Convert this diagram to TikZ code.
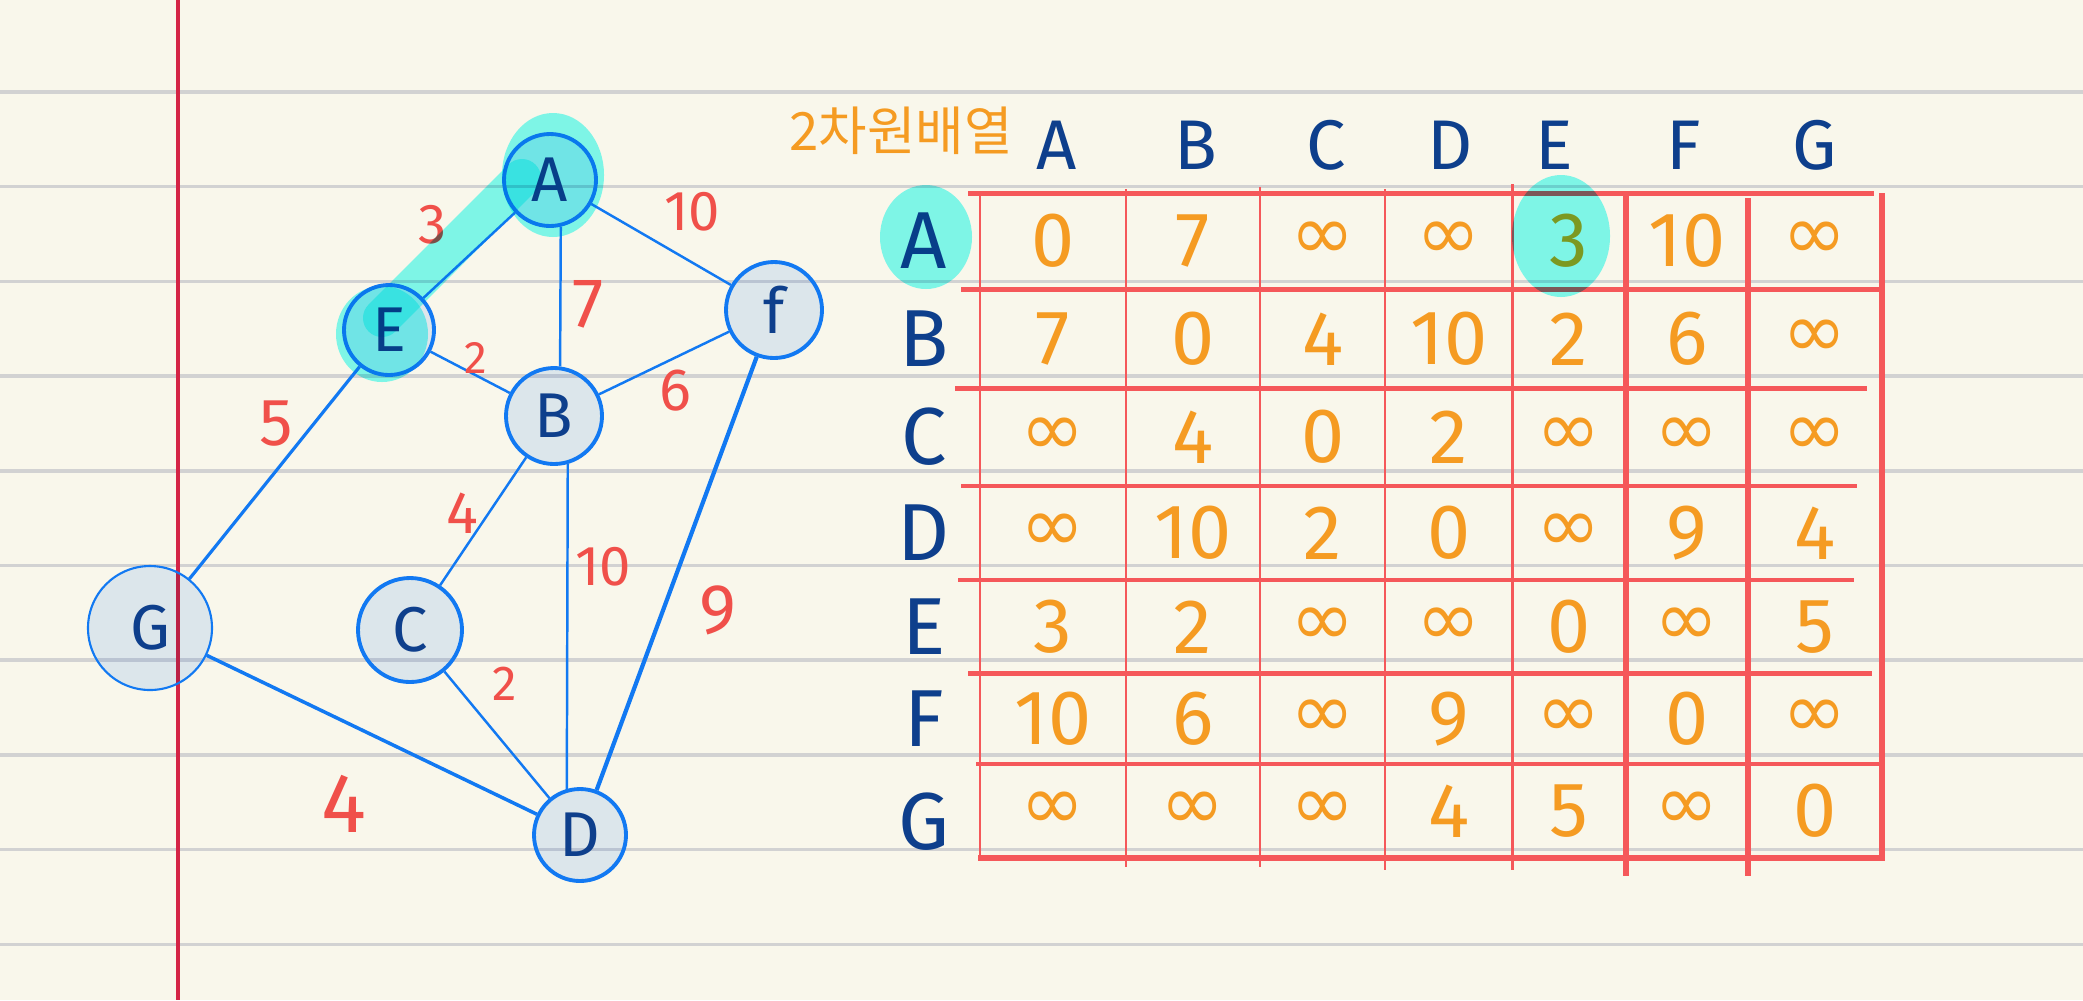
\documentclass[tikz,border=0pt]{standalone}
\usepackage{fontspec}
\setmainfont{Fira Sans}
\newfontfamily\kofont{Noto Sans CJK KR}
\newfontfamily\symfont{DejaVu Sans}
\definecolor{paper}{HTML}{F9F7EB}
\definecolor{ruleg}{HTML}{D2D2D2}
\definecolor{marginred}{HTML}{D42445}
\definecolor{nodeblue}{HTML}{1279F2}
\definecolor{nodefill}{HTML}{E2EEFF}
\definecolor{ink}{HTML}{0E3F8C}
\definecolor{wred}{HTML}{F0504A}
\definecolor{tred}{HTML}{F5585A}
\definecolor{orng}{HTML}{F59B22}
\definecolor{hl}{HTML}{82FDFA}
\protected\def\I{{\symfont ∞}}
\tikzset{
  gnode/.style={circle, draw=nodeblue, line width=1.1pt, inner sep=0pt,
    text=ink, font=\fontsize{18}{18}\selectfont},
  nfill/.style={fill=nodefill, blend mode=multiply},
  gedge/.style={draw=nodeblue, line width=0.7pt},
  wlabel/.style={text=wred, inner sep=0pt, font=\fontsize{16}{16}\selectfont},
  colhead/.style={text=ink, inner sep=0pt, font=\fontsize{20}{20}\selectfont},
  rowlab/.style={text=ink, inner sep=0pt, font=\fontsize{23}{23}\selectfont},
  cellv/.style={text=orng, inner sep=0pt, font=\fontsize{22}{22}\selectfont},
  tthin/.style={draw=tred, line width=0.6pt},
  tthick/.style={draw=tred, line width=1.2pt},
  tbold/.style={draw=tred, line width=1.6pt},
  hilite/.style={fill=hl, draw=none, blend mode=multiply},
}
\begin{document}
\begin{tikzpicture}[x=0.1mm, y=-0.1mm]
\path[use as bounding box, fill=paper] (0,0) rectangle (2083,1000);
% ruled lines
\foreach \yy in {92,186.7,281.4,376,470.8,565.5,660.2,755,849.6,944.3}
  \draw[ruleg, line width=1pt] (0,\yy) -- (2083,\yy);
% margin line
\draw[marginred, line width=1.1pt] (178,0) -- (178,1000);

% table lines
\draw[tbold]  (968,193.4) -- (1874,193.4);
\draw[tthick] (961,289.4) -- (1884,289.4);
\draw[tthick] (955,388.5) -- (1867,388.5);
\draw[tthick] (961,485.8) -- (1857,485.8);
\draw[tthick] (958,580) -- (1854,580);
\draw[tbold]  (968,673.3) -- (1872,673.3);
\draw[tthick] (976,764) -- (1881,764);
\draw[tbold]  (978,857.7) -- (1884,857.7);
\draw[tthin]  (979.7,193) -- (979.7,858);
\draw[tthin]  (1125.7,189) -- (1125.7,867);
\draw[tthin]  (1260,187) -- (1260,867);
\draw[tthin]  (1385,189) -- (1385,870);
\draw[tthin]  (1512.5,184) -- (1512.5,870);
\draw[tbold]  (1626,193) -- (1626,876);
\draw[tbold]  (1747.7,198) -- (1747.7,876);
\draw[tbold]  (1882,193) -- (1882,861);

% title
\node[text=orng, inner sep=0pt, font=\kofont\fontsize{15}{15}\selectfont] (title) at (901,131) {2차원배열};

% column headers
\foreach \lab/\xx in {A/1057,B/1196,C/1326,D/1450,E/1554,F/1684,G/1815}
  \node[colhead] (h-\lab) at (\xx,145) {\lab};

% rows
\foreach \rn/\yy/\ly/\vals in {A/241/241/{0,7,\I,\I,3,10,\I}, B/339/339/{7,0,4,10,2,6,\I},
  C/437/437/{\I,4,0,2,\I,\I,\I}, D/533/533/{\I,10,2,0,\I,9,4}, E/627/627/{3,2,\I,\I,0,\I,5},
  F/719/719/{10,6,\I,9,\I,0,\I}, G/811/822/{\I,\I,\I,4,5,\I,0}}{
  \node[rowlab] (r-\rn) at (924,\ly) {\rn};
  \foreach \v [count=\ci] in \vals {
    \pgfmathsetmacro\xx{{1053,1193,1323,1449,1569,1687,1815}[\ci-1]}
    \node[cellv] (v-\rn-\ci) at (\xx,\yy) {\v};
  }
}

% graph node fills (multiplied, so the ruled lines show through)
\fill[nfill] (550,180) circle [radius=46];
\fill[nfill] (389,330) circle [radius=45];
\fill[nfill] (774,310) circle [radius=48];
\fill[nfill] (554,416) circle [radius=48];
\fill[nfill] (150,628) circle [radius=62];
\fill[nfill] (410,630) circle [radius=52];
\fill[nfill] (580,835) circle [radius=46];

% graph nodes
\node[gnode, minimum size=9.2mm] (A) at (550,180) {A};
\node[gnode, minimum size=9.0mm] (E) at (389,330) {E};
\node[gnode, minimum size=9.6mm] (F) at (774,310) {f};
\node[gnode, minimum size=9.6mm] (B) at (554,416) {B};
\node[gnode, minimum size=12.4mm, line width=0.6pt] (G) at (150,628) {G};
\node[gnode, minimum size=10.4mm] (C) at (410,630) {C};
\node[gnode, minimum size=9.2mm] (D) at (580,835) {D};

% edges
\draw[gedge] (A) -- (E);
\draw[gedge] (A) -- (F);
\draw[gedge] (A.-77) -- (B.83);
\draw[gedge] (E) -- (B);
\draw[gedge] (B) -- (F);
\draw[gedge, line width=0.9pt] (E) -- (G);
\draw[gedge] (B) -- (C);
\draw[gedge] (B.-74) -- (D.106);
\draw[gedge, line width=1.2pt] (F) -- (D);
\draw[gedge] (C) -- (D);
\draw[gedge, line width=1pt] (G) -- (D);

% weights
\node[wlabel] (w-AE) at (433,225) {3};
\node[wlabel] (w-AF) at (692,212) {10};
\node[wlabel, font=\fontsize{20}{20}\selectfont] (w-AB) at (588,304) {7};
\node[wlabel, font=\fontsize{13}{13}\selectfont] (w-EB) at (476,358) {2};
\node[wlabel, font=\fontsize{17}{17}\selectfont] (w-BF) at (675,391) {6};
\node[wlabel, font=\fontsize{19}{19}\selectfont] (w-EG) at (276,424) {5};
\node[wlabel, font=\fontsize{17}{17}\selectfont] (w-BC) at (462,513) {4};
\node[wlabel] (w-BD) at (603,567) {10};
\node[wlabel, font=\fontsize{20}{20}\selectfont] (w-FD) at (718,610) {9};
\node[wlabel, font=\fontsize{14}{14}\selectfont] (w-CD) at (505,684) {2};
\node[wlabel, font=\fontsize{24}{24}\selectfont] (w-GD) at (344,804) {4};

% highlights
\fill[hilite] (553,175) ellipse [x radius=51, y radius=62];
\fill[hilite] (382,334) ellipse [x radius=46, y radius=48];
\draw[hl, blend mode=multiply, line width=3.8mm, line cap=round] (522,178) -- (382,318);
\fill[hilite] (926,237) ellipse [x radius=46, y radius=52];
\fill[hilite] (1561,236) ellipse [x radius=49, y radius=61];
\end{tikzpicture}
\end{document}
